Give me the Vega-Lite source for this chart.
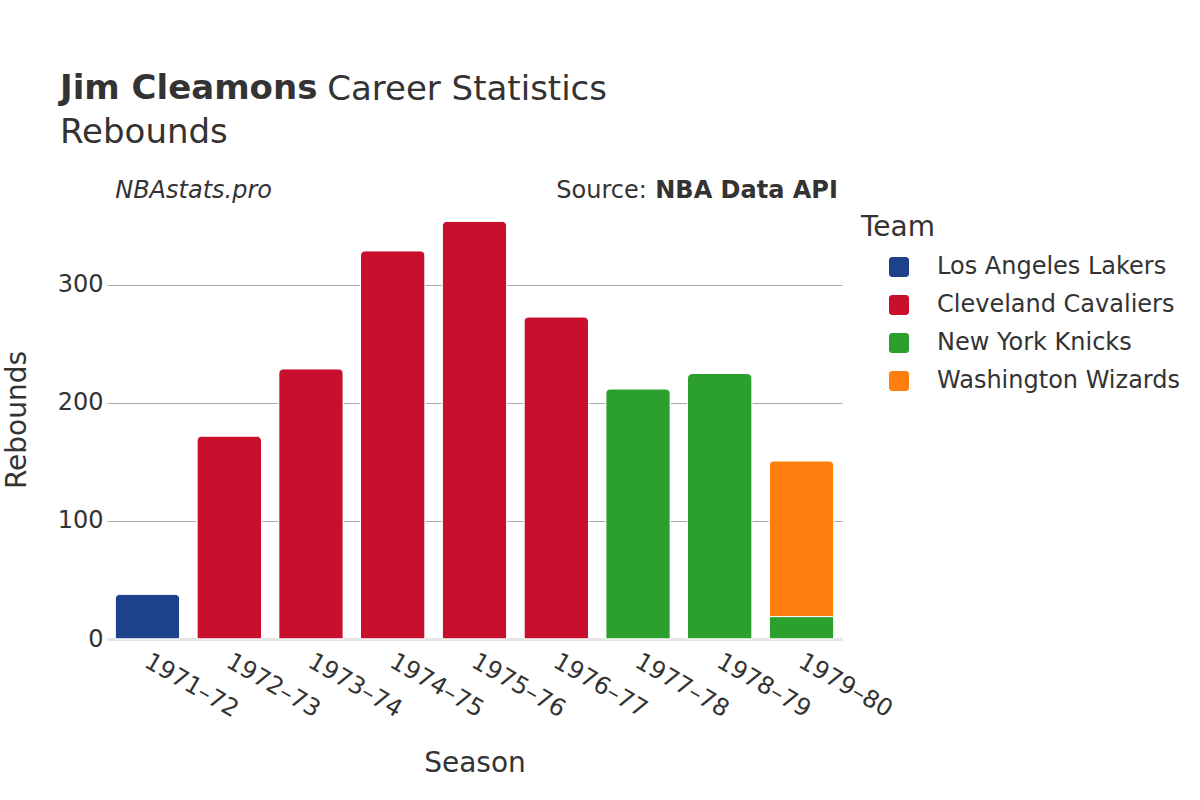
{
  "$schema": "https://vega.github.io/schema/vega-lite/v6.json",
  "autosize": "none",
  "width": 735,
  "height": 439,
  "padding": {"left": 107, "top": 200, "right": 358, "bottom": 161},
  "background": "white",
  "config": {"font": "DejaVu Sans", "view": {"stroke": null}},
  "title": {
    "text": "Jim Cleamons",
    "subtitle": "Rebounds",
    "anchor": "start",
    "frame": "group",
    "dx": -47,
    "offset": -77,
    "fontSize": 34,
    "fontWeight": "bold",
    "color": "#333333",
    "subtitleFontSize": 34,
    "subtitleColor": "#333333",
    "subtitlePadding": 10
  },
  "layer": [
    {
      "data": {
        "values": [
          {"Season": "1971–72", "Team": "Los Angeles Lakers", "Rebounds": 38},
          {"Season": "1972–73", "Team": "Cleveland Cavaliers", "Rebounds": 172},
          {"Season": "1973–74", "Team": "Cleveland Cavaliers", "Rebounds": 229},
          {"Season": "1974–75", "Team": "Cleveland Cavaliers", "Rebounds": 329},
          {"Season": "1975–76", "Team": "Cleveland Cavaliers", "Rebounds": 354},
          {"Season": "1976–77", "Team": "Cleveland Cavaliers", "Rebounds": 273},
          {"Season": "1977–78", "Team": "New York Knicks", "Rebounds": 212},
          {"Season": "1978–79", "Team": "New York Knicks", "Rebounds": 225},
          {"Season": "1979–80", "Team": "New York Knicks", "Rebounds": 19},
          {"Season": "1979–80", "Team": "Washington Wizards", "Rebounds": 132}
        ]
      },
      "mark": {"type": "bar", "cornerRadiusTopLeft": 5, "cornerRadiusTopRight": 5, "stroke": "white", "strokeWidth": 1},
      "encoding": {
        "x": {
          "field": "Season", "type": "nominal", "sort": null,
          "scale": {"paddingInner": 0.21, "paddingOuter": 0.1},
          "axis": {
            "title": "Season", "titleFontSize": 28, "titleFontWeight": "normal", "titleColor": "#333333", "titlePadding": 28,
            "labelFontSize": 24, "labelColor": "#333333", "labelAngle": 30, "labelAlign": "left", "labelBaseline": "top", "labelPadding": 10, "labelOffset": 5,
            "ticks": false, "domainColor": "#e5e5e5", "domainWidth": 3, "grid": false
          }
        },
        "y": {
          "field": "Rebounds", "type": "quantitative", "stack": "zero",
          "scale": {"domain": [0, 372], "nice": false},
          "axis": {
            "title": "Rebounds", "titleFontSize": 28, "titleFontWeight": "normal", "titleColor": "#333333", "titlePadding": 26,
            "labelFontSize": 24, "labelColor": "#333333", "labelPadding": 4,
            "values": [0, 100, 200, 300], "ticks": false, "domain": false,
            "gridColor": {"condition": {"test": "datum.value === 0", "value": "#e5e5e5"}, "value": "#aaaaaa"},
            "gridWidth": {"condition": {"test": "datum.value === 0", "value": 3}, "value": 1}
          }
        },
        "order": {"field": "Team", "sort": "ascending"},
        "color": {
          "field": "Team", "type": "nominal",
          "scale": {
            "domain": ["Los Angeles Lakers", "Cleveland Cavaliers", "New York Knicks", "Washington Wizards"],
            "range": ["#1d428a", "#c8102e", "#2ca02c", "#ff7f0e"]
          },
          "legend": {
            "title": "Team", "titleFontSize": 28, "titleFontWeight": "normal", "titleColor": "#333333", "titlePadding": 13,
            "labelFontSize": 24, "labelColor": "#333333", "labelLimit": 400,
            "symbolType": "M -0.7,-1 L 0.7,-1 A 0.3,0.3 0 0 1 1,-0.7 L 1,0.7 A 0.3,0.3 0 0 1 0.7,1 L -0.7,1 A 0.3,0.3 0 0 1 -1,0.7 L -1,-0.7 A 0.3,0.3 0 0 1 -0.7,-1 Z",
            "symbolSize": 400, "symbolStrokeWidth": 0, "symbolOffset": 26, "labelOffset": 26, "rowPadding": 14,
            "orient": "none", "legendX": 754, "legendY": 14
          }
        }
      }
    },
    {
      "data": {"values": [{"label": "Career Statistics"}]},
      "mark": {"type": "text", "align": "left", "baseline": "alphabetic", "fontSize": 34, "color": "#333333", "dx": 212},
      "encoding": {
        "x": {"datum": "1971–72", "bandPosition": 0},
        "y": {"datum": 457},
        "text": {"field": "label"}
      }
    },
    {
      "data": {"values": [{"label": "NBAstats.pro"}]},
      "mark": {"type": "text", "align": "left", "baseline": "alphabetic", "fontSize": 24, "fontStyle": "italic", "color": "#333333", "dx": 0},
      "encoding": {
        "x": {"datum": "1971–72", "bandPosition": 0},
        "y": {"datum": 373.4},
        "text": {"field": "label"}
      }
    },
    {
      "data": {"values": [{"label": "NBA Data API"}]},
      "mark": {"type": "text", "align": "right", "baseline": "alphabetic", "fontSize": 24, "fontWeight": "bold", "color": "#333333", "dx": 4},
      "encoding": {
        "x": {"datum": "1979–80", "bandPosition": 1},
        "y": {"datum": 373.4},
        "text": {"field": "label"}
      }
    },
    {
      "data": {"values": [{"label": "Source:"}]},
      "mark": {"type": "text", "align": "right", "baseline": "alphabetic", "fontSize": 24, "color": "#333333", "dx": -187},
      "encoding": {
        "x": {"datum": "1979–80", "bandPosition": 1},
        "y": {"datum": 373.4},
        "text": {"field": "label"}
      }
    }
  ]
}
